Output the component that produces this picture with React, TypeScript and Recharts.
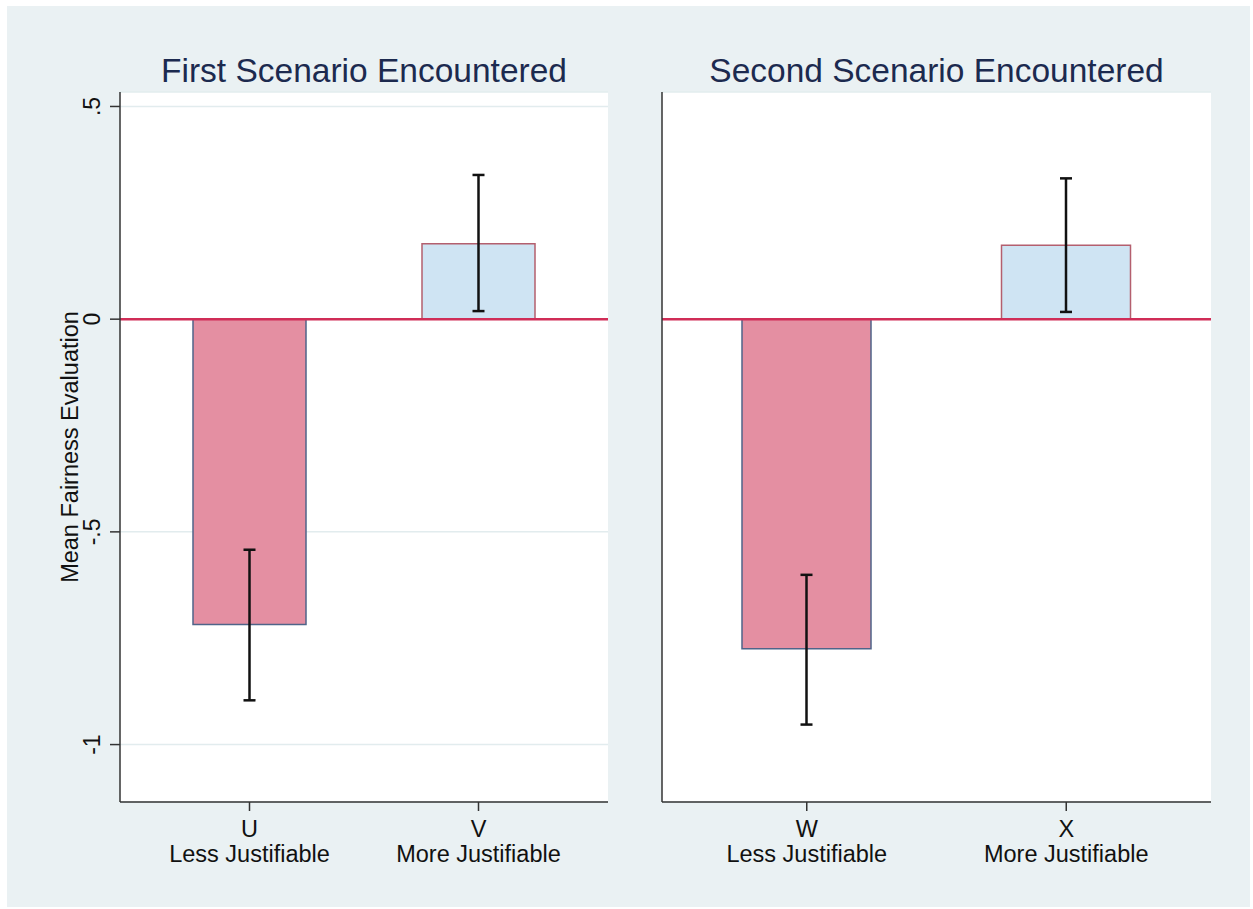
import React from 'react';
import { BarChart, Bar, XAxis, YAxis, CartesianGrid, ReferenceLine, ErrorBar, Cell } from 'recharts';

// Mean fairness evaluation by scenario, with 95% confidence intervals.
const firstCategories = ['U', 'V'];
const firstMeans = [-0.718, 0.177];
const firstLower = [-0.896, 0.019];
const firstUpper = [-0.542, 0.339];

const secondCategories = ['W', 'X'];
const secondMeans = [-0.775, 0.174];
const secondLower = [-0.953, 0.017];
const secondUpper = [-0.601, 0.331];

const subLabels = ['Less Justifiable', 'More Justifiable'];
const yTicks = [-1, -0.5, 0, 0.5];
const yDomain = [-1.135, 0.534];

const FONT = '"Liberation Sans", Arial, Helvetica, sans-serif';
const BAR_FILLS = ['#e48fa2', '#cfe4f3'];
const BAR_STROKES = ['#4f6489', '#b45f6e'];

const buildRows = (cats: string[], means: number[], lower: number[], upper: number[]) =>
  cats.map((c, i) => ({
    name: c,
    sub: subLabels[i],
    mean: means[i],
    err: [means[i] - lower[i], upper[i] - means[i]],
  }));

const firstRows = buildRows(firstCategories, firstMeans, firstLower, firstUpper);
const secondRows = buildRows(secondCategories, secondMeans, secondLower, secondUpper);

// Stata-style tick text: ".5", "-.5", "0", "-1"
const fmtTick = (v: number) => {
  if (v === 0) return '0';
  const s = String(Math.abs(v)).replace(/^0\./, '.');
  return (v < 0 ? '-' : '') + s;
};

const YTick = ({ x, y, payload }: any) => (
  <text
    x={x}
    y={y}
    transform={`rotate(-90, ${x}, ${y})`}
    textAnchor="middle"
    fontSize={23}
    fontFamily={FONT}
    fill="#111"
  >
    {fmtTick(payload.value)}
  </text>
);

const makeXTick = (rows: { name: string; sub: string }[]) => ({ x, y, payload }: any) => {
  const row = rows.find((r) => r.name === payload.value);
  return (
    <text x={x} y={y} textAnchor="middle" fontSize={23.5} fontFamily={FONT} fill="#111">
      <tspan x={x} dy={26}>{payload.value}</tspan>
      <tspan x={x} dy={25}>{row ? row.sub : ''}</tspan>
    </text>
  );
};

interface PanelProps {
  rows: any[];
  width: number;
  yWidth: number;
  barSize: number;
  showYLabels: boolean;
}

const Panel: React.FC<PanelProps> = ({ rows, width, yWidth, barSize, showYLabels }) => (
  <BarChart
    width={width}
    height={909}
    data={rows}
    margin={{ top: 92, right: showYLabels ? 12 : 42, bottom: 47, left: 0 }}
    style={{ fontFamily: FONT }}
  >
    <CartesianGrid vertical={false} stroke="#e2ecee" strokeWidth={1.5} fill="#ffffff" />
    <XAxis
      dataKey="name"
      height={60}
      padding={{ left: 15, right: 15 }}
      axisLine={{ stroke: '#333', strokeWidth: 1.5 }}
      tickLine={{ stroke: '#333', strokeWidth: 1.5 }}
      tickSize={9}
      tickMargin={0}
      tick={makeXTick(rows)}
      interval={0}
    />
    <YAxis
      type="number"
      domain={yDomain}
      ticks={yTicks}
      allowDataOverflow
      width={yWidth}
      axisLine={{ stroke: '#333', strokeWidth: 1.5 }}
      tickLine={showYLabels ? { stroke: '#333', strokeWidth: 1.5 } : false}
      tickSize={10}
      tickMargin={10}
      tick={showYLabels ? <YTick /> : false}
      label={
        showYLabels
          ? {
              value: 'Mean Fairness Evaluation',
              angle: -90,
              position: 'center',
              dx: 10,
              fontSize: 23.5,
              fill: '#111',
              fontFamily: FONT,
            }
          : undefined
      }
    />
    <Bar dataKey="mean" barSize={barSize} isAnimationActive={false}>
      {rows.map((_, i) => (
        <Cell key={i} fill={BAR_FILLS[i]} stroke={BAR_STROKES[i]} strokeWidth={1.5} />
      ))}
      <ErrorBar dataKey="err" direction="y" width={6} stroke="#111" strokeWidth={2.5} isAnimationActive={false} />
    </Bar>
    <ReferenceLine y={0} stroke="#d02d57" strokeWidth={2.5} />
  </BarChart>
);

const titleStyle: React.CSSProperties = {
  position: 'absolute',
  top: 54,
  fontFamily: FONT,
  fontSize: 33.5,
  lineHeight: '33px',
  color: '#1c2a4f',
  textAlign: 'center',
  whiteSpace: 'nowrap',
};

export default function App() {
  return (
    <div style={{ position: 'absolute', left: 0, top: 0, width: 1253, height: 909, background: '#ffffff' }}>
      <div style={{ position: 'absolute', left: 7, top: 6, width: 1243, height: 901, background: '#eaf1f3' }} />
      <div style={{ ...titleStyle, left: 120, width: 488 }}>First Scenario Encountered</div>
      <div style={{ ...titleStyle, left: 662, width: 549 }}>Second Scenario Encountered</div>
      <div style={{ position: 'absolute', left: 0, top: 0 }}>
        <Panel rows={firstRows} width={620} yWidth={120} barSize={113} showYLabels />
      </div>
      <div style={{ position: 'absolute', left: 620, top: 0 }}>
        <Panel rows={secondRows} width={633} yWidth={42} barSize={129} showYLabels={false} />
      </div>
    </div>
  );
}
